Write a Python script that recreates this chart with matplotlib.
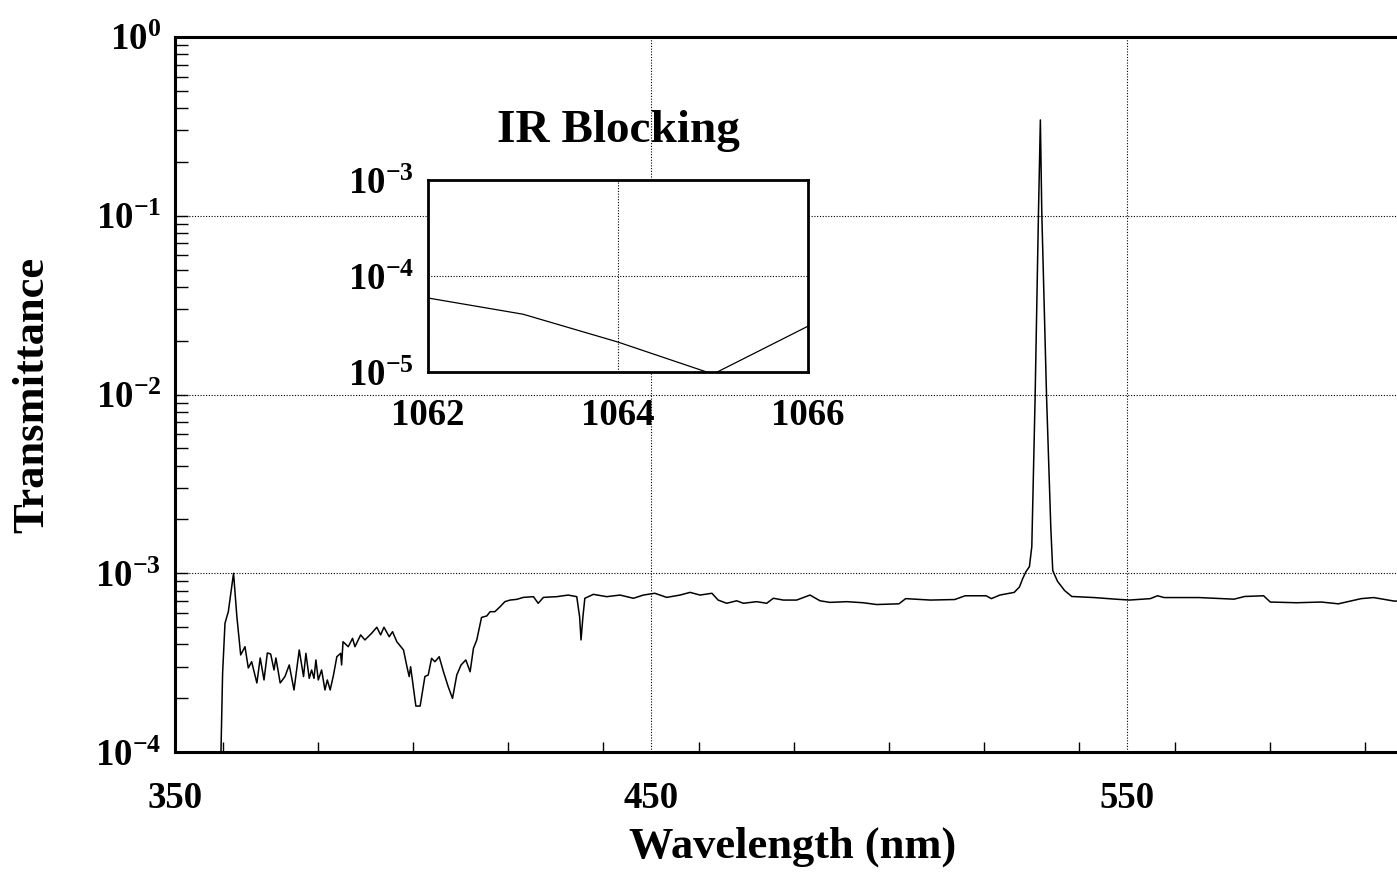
import numpy as np
import matplotlib
matplotlib.use('Agg')
import matplotlib.pyplot as plt
from matplotlib.ticker import FixedLocator, LogLocator, MultipleLocator, NullLocator

plt.rcParams['font.family'] = ['Liberation Serif', 'DejaVu Serif']
plt.rcParams['font.weight'] = 'bold'
plt.rcParams['mathtext.fontset'] = 'custom'
plt.rcParams['mathtext.rm'] = 'Liberation Serif:bold'
plt.rcParams['mathtext.it'] = 'Liberation Serif:bold'
plt.rcParams['mathtext.bf'] = 'Liberation Serif:bold'

# main spectrum (wavelength nm, log10 transmittance)
wavelength = [
    359.5, 360.0, 360.5, 361.2, 362.3, 363.0, 363.8, 364.7, 365.4, 366.1,
    367.2, 367.9, 368.7, 369.4, 370.1, 370.8, 371.2, 372.1, 373.1, 374.0,
    375.0, 376.1, 377.0, 377.5, 378.2, 378.7, 379.2, 379.6, 380.1, 380.8,
    381.5, 382.0, 382.6, 383.3, 384.0, 384.8, 385.0, 385.3, 386.4, 387.3,
    387.8, 389.0, 389.9, 391.3, 392.4, 393.2, 393.9, 395.0, 395.7, 396.6,
    398.0, 398.8, 399.2, 399.5, 400.6, 401.5, 402.5, 403.2, 403.9, 404.6,
    405.5, 406.4, 407.4, 408.3, 409.2, 410.1, 411.1, 412.0, 412.7, 413.4,
    414.4, 415.5, 416.2, 417.2, 418.3, 419.3, 420.4, 421.8, 423.2, 425.3,
    426.3, 427.4, 430.2, 432.6, 434.4, 435.0, 435.3, 435.7, 436.1, 437.9,
    440.7, 443.5, 446.3, 448.4, 450.8, 453.3, 456.1, 458.2, 460.3, 462.8,
    464.1, 465.9, 468.0, 469.4, 472.2, 474.3, 475.7, 477.8, 480.6, 483.4,
    485.5, 487.6, 491.1, 494.6, 497.4, 502.1, 503.5, 508.7, 513.8, 516.0,
    520.4, 521.5, 523.3, 526.3, 527.4, 528.1, 528.8, 529.5, 530.0, 530.7,
    531.4, 531.8, 532.1, 533.1, 534.0, 534.4, 535.4, 536.9, 538.4, 543.1,
    547.6, 550.5, 554.9, 556.4, 557.8, 565.1, 572.5, 574.7, 578.7, 580.1,
    585.6, 590.8, 594.4, 599.2, 601.8, 606.2, 610.0,
]
log_t = [
    -4.20, -3.56, -3.28, -3.215, -3.00, -3.243, -3.457, -3.411, -3.53, -3.495,
    -3.614, -3.474, -3.597, -3.446, -3.452, -3.541, -3.474, -3.614, -3.578, -3.513,
    -3.653, -3.429, -3.578, -3.448, -3.588, -3.541, -3.588, -3.485, -3.597, -3.541,
    -3.653, -3.597, -3.653, -3.569, -3.467, -3.448, -3.513, -3.383, -3.411, -3.364,
    -3.411, -3.345, -3.373, -3.336, -3.302, -3.345, -3.302, -3.355, -3.327, -3.383,
    -3.429, -3.532, -3.578, -3.523, -3.743, -3.743, -3.578, -3.569, -3.476, -3.495,
    -3.467, -3.551, -3.635, -3.700, -3.569, -3.513, -3.485, -3.551, -3.42, -3.373,
    -3.247, -3.239, -3.215, -3.215, -3.187, -3.159, -3.150, -3.146, -3.135, -3.131,
    -3.168, -3.135, -3.131, -3.122, -3.131, -3.243, -3.373, -3.243, -3.140, -3.118,
    -3.131, -3.122, -3.140, -3.122, -3.112, -3.135, -3.122, -3.107, -3.122, -3.112,
    -3.150, -3.168, -3.154, -3.168, -3.159, -3.168, -3.140, -3.150, -3.150, -3.122,
    -3.154, -3.163, -3.159, -3.165, -3.175, -3.171, -3.142, -3.150, -3.147, -3.126,
    -3.126, -3.142, -3.122, -3.107, -3.077, -3.029, -2.99, -2.963, -2.851, -2.012,
    -0.986, -0.464, -0.986, -2.012, -2.75, -2.985, -3.045, -3.097, -3.130, -3.136,
    -3.145, -3.150, -3.142, -3.126, -3.136, -3.136, -3.145, -3.130, -3.126, -3.161,
    -3.165, -3.161, -3.171, -3.142, -3.136, -3.156, -3.150,
]

# inset: IR blocking around 1064 nm
ir_wavelength = [1062, 1063, 1064, 1065, 1066]
ir_transmittance = [5.9e-5, 4.0e-5, 2.05e-5, 9.5e-6, 3.0e-5]

main_yticks = [1e-4, 1e-3, 1e-2, 1e-1, 1e0]
main_ylabels = [r'$10^{-4}$', r'$10^{-3}$', r'$10^{-2}$', r'$10^{-1}$', r'$10^{0}$']
main_xticks = [350, 450, 550]
ir_yticks = [1e-5, 1e-4, 1e-3]
ir_ylabels = [r'$10^{-5}$', r'$10^{-4}$', r'$10^{-3}$']
ir_xticks = [1062, 1064, 1066]

W, H = 1397, 877
fig = plt.figure(figsize=(W / 100, H / 100), dpi=100)
fig.patch.set_facecolor('white')

# main axes (right edge runs slightly past the figure, as in the scan)
x0, x1 = 350, 610
ax_w = (x1 - x0) * 4.76          # axes width in pixels
ax_h = 752 - 37
ax = fig.add_axes([175 / W, 1 - 752 / H, ax_w / W, ax_h / H])
ax.plot(wavelength, 10 ** np.array(log_t), color='black', lw=1.1)
ax.set_yscale('log')
ax.set_xlim(x0, x1)
ax.set_ylim(1e-4, 1e0)
ax.yaxis.set_major_locator(FixedLocator(main_yticks))
ax.set_yticklabels(main_ylabels)
ax.yaxis.set_minor_locator(LogLocator(base=10, subs=np.arange(2, 10)))
ax.yaxis.set_minor_formatter(plt.NullFormatter())
ax.xaxis.set_major_locator(FixedLocator(main_xticks))
ax.xaxis.set_minor_locator(MultipleLocator(20))
ax.grid(True, which='major', color='black', linestyle=(0, (1, 1.5)), linewidth=0.8)
for s in ax.spines.values():
    s.set_linewidth(2.2)
ax.spines['right'].set_visible(False)
ax.tick_params(axis='both', which='both', direction='in', labelsize=26.5, width=1.0)
ax.tick_params(axis='y', which='both', length=9, pad=10)
ax.tick_params(axis='x', which='both', length=7, pad=21)
ax.tick_params(axis='x', which='major', length=0)
ax.set_xlabel('Wavelength (nm)', fontsize=32, fontweight='bold')
ax.set_ylabel('Transmittance', fontsize=32, fontweight='bold')
ax.xaxis.set_label_coords((793 - 175) / ax_w, -(827 - 752) / ax_h)
ax.yaxis.set_label_coords(-(175 - 52) / ax_w, 0.5)

# inset
ins = fig.add_axes([428 / W, 1 - 372 / H, (808 - 428) / W, (372 - 180) / H])
ins.set_facecolor('white')
ins.plot(ir_wavelength, ir_transmittance, color='black', lw=0.9)
ins.set_yscale('log')
ins.set_xlim(1062, 1066)
ins.set_ylim(1e-5, 1e-3)
ins.yaxis.set_major_locator(FixedLocator(ir_yticks))
ins.set_yticklabels(ir_ylabels)
ins.yaxis.set_minor_locator(NullLocator())
ins.xaxis.set_major_locator(FixedLocator(ir_xticks))
ins.grid(True, color='black', linestyle=(0, (1, 1.5)), linewidth=0.8)
for s in ins.spines.values():
    s.set_linewidth(2.0)
ins.tick_params(axis='both', which='both', length=0, labelsize=26.5)
ins.tick_params(axis='y', pad=10)
ins.tick_params(axis='x', pad=19)
ins.set_title('IR Blocking', fontsize=34, fontweight='bold', pad=27)

fig.savefig('out.png', dpi=100, facecolor='white')
